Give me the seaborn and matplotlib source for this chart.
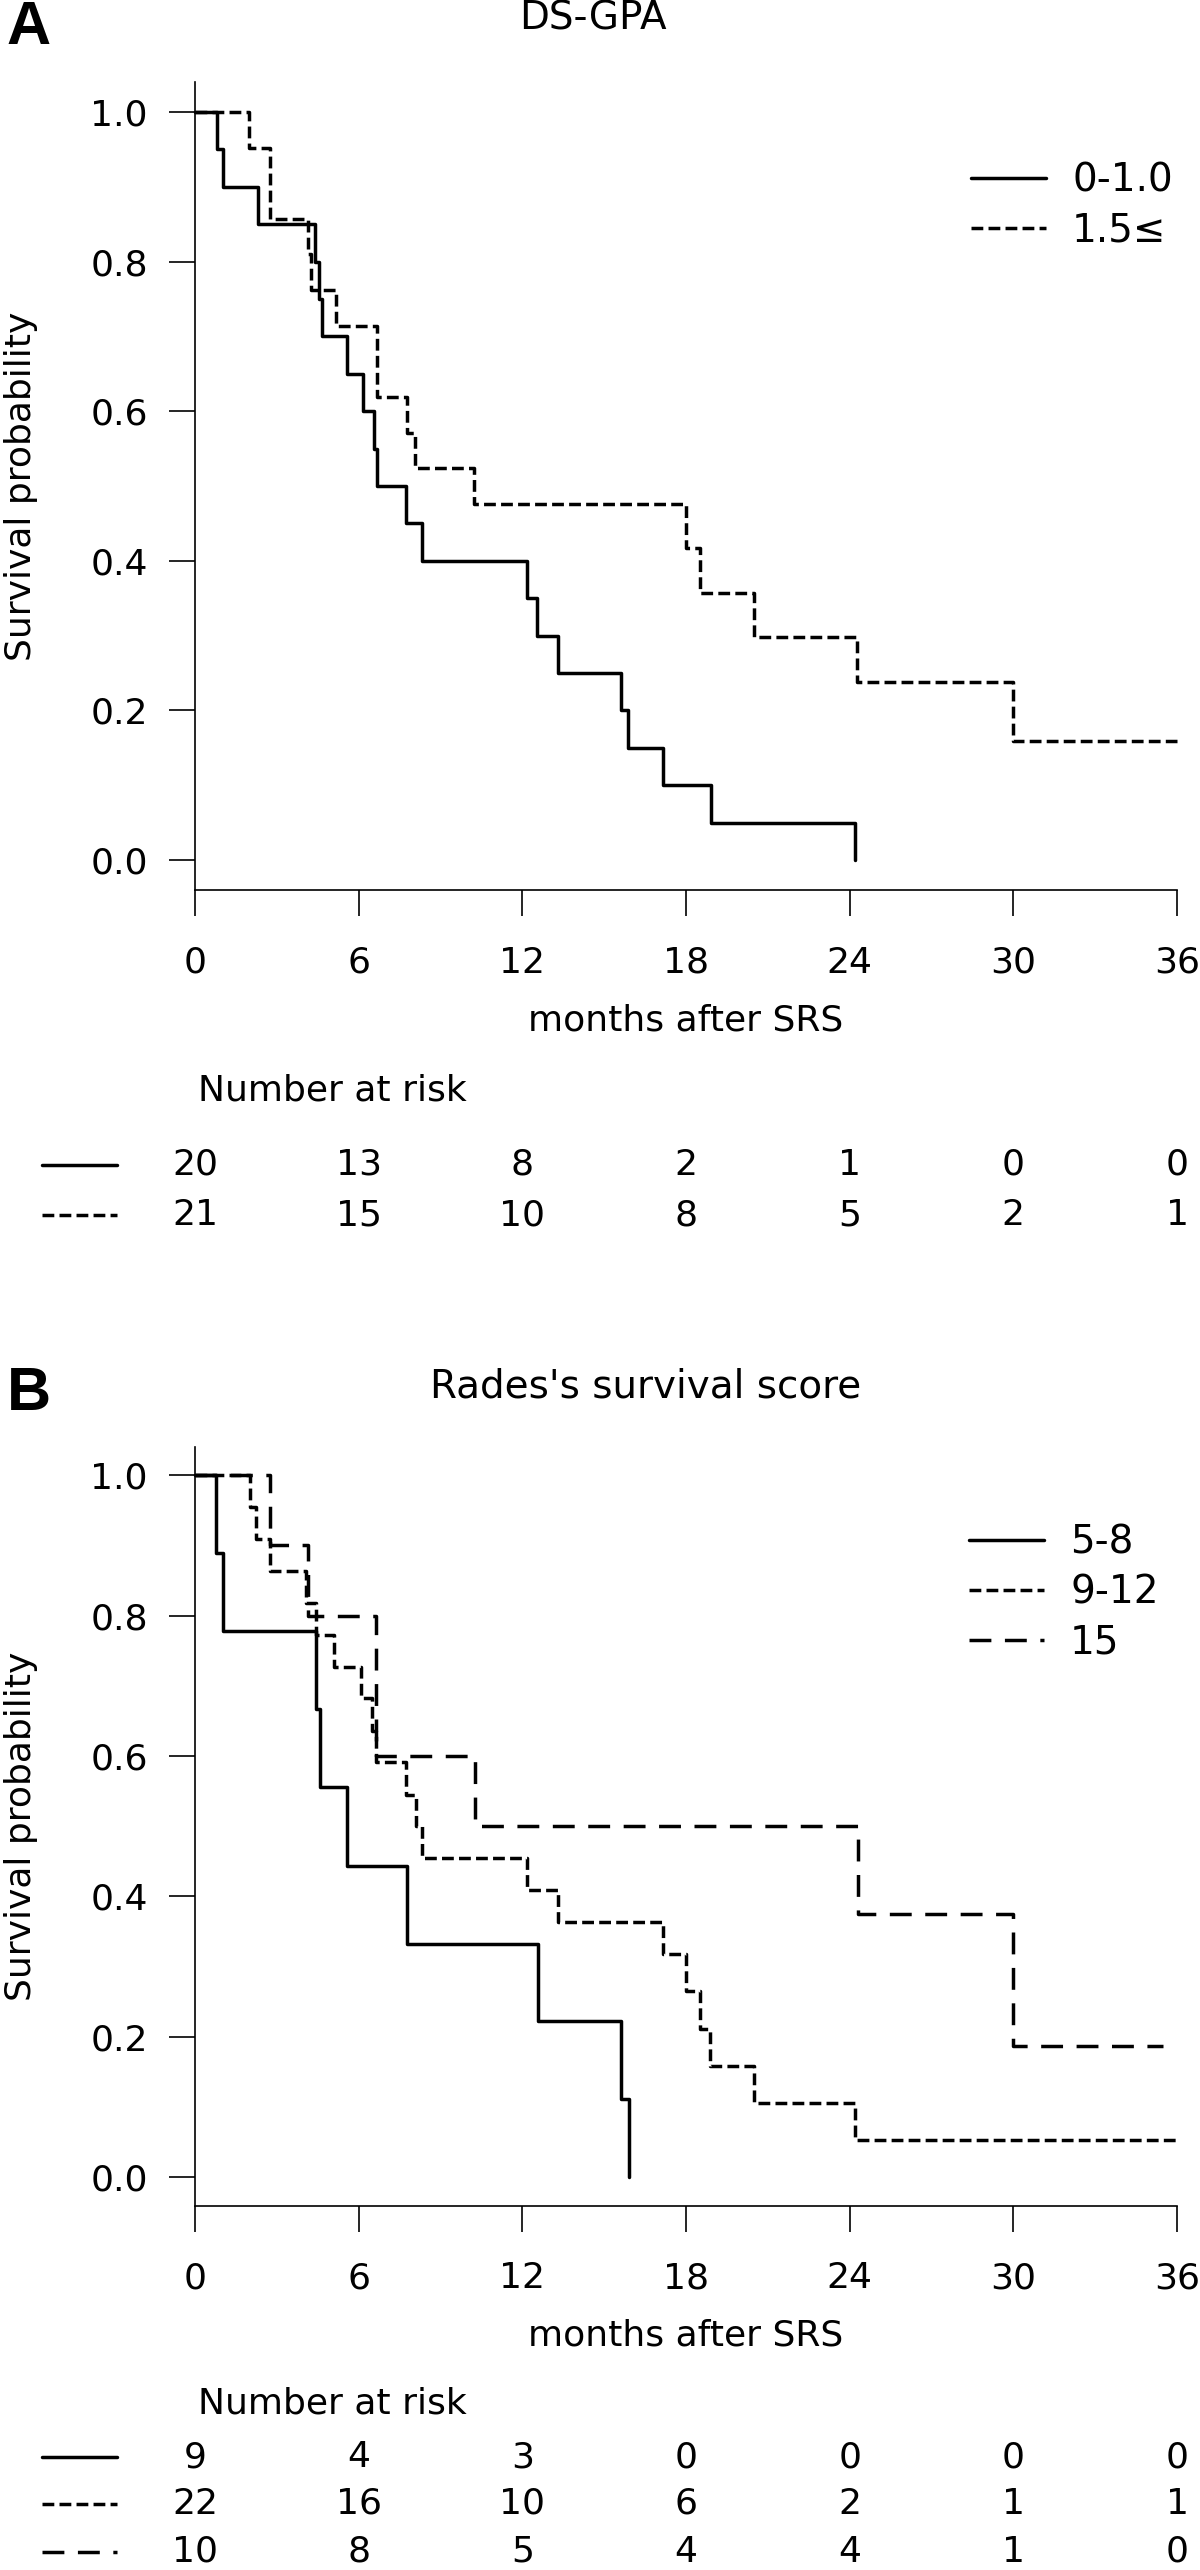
import numpy as np
import pandas as pd
import matplotlib
matplotlib.use("Agg")
import matplotlib.pyplot as plt
import seaborn as sns
from matplotlib.lines import Line2D
from matplotlib.transforms import blended_transform_factory

sns.set_theme(style="white")
plt.rcParams["font.family"] = ["DejaVu Sans"]
plt.rcParams["text.color"] = "black"
plt.rcParams["axes.labelcolor"] = "black"
plt.rcParams["xtick.color"] = "black"
plt.rcParams["ytick.color"] = "black"

months = [0, 6, 12, 18, 24, 30, 36]

# panel A - DS-GPA
a_low_t = [0, 0.79, 1.04, 2.31, 4.40, 4.54, 4.66, 5.59, 6.15, 6.55, 6.66, 7.73, 8.32,
           12.16, 12.53, 13.29, 15.63, 15.86, 17.16, 18.9, 24.18]
a_low_s = [1.0, 0.95, 0.90, 0.85, 0.80, 0.75, 0.70, 0.65, 0.60, 0.55, 0.50, 0.45, 0.40,
           0.35, 0.30, 0.25, 0.20, 0.15, 0.10, 0.05, 0.0]
a_high_t = [0, 1.99, 2.76, 4.13, 4.27, 5.16, 6.67, 7.77, 8.08, 10.23, 18.0, 18.5, 20.5,
            24.27, 29.97, 36]
a_high_s = [1.0, 0.952, 0.857, 0.810, 0.762, 0.714, 0.619, 0.571, 0.524, 0.476, 0.417,
            0.357, 0.298, 0.238, 0.159, 0.159]
a_risk_low = [20, 13, 8, 2, 1, 0, 0]
a_risk_high = [21, 15, 10, 8, 5, 2, 1]

# panel B - Rades's survival score
b_low_t = [0, 0.78, 1.02, 4.42, 4.6, 5.59, 7.76, 12.56, 15.63, 15.91]
b_low_s = [1.0, 0.889, 0.778, 0.667, 0.556, 0.444, 0.333, 0.222, 0.111, 0.0]
b_mid_t = [0, 2.0, 2.25, 2.74, 4.08, 4.45, 5.08, 6.09, 6.5, 6.62, 7.73, 8.1, 8.32,
           12.16, 13.29, 17.16, 18.0, 18.5, 18.88, 20.5, 24.2, 36]
b_mid_s = [1.0, 0.955, 0.909, 0.864, 0.818, 0.773, 0.727, 0.682, 0.636, 0.591, 0.545,
           0.5, 0.455, 0.409, 0.364, 0.318, 0.265, 0.212, 0.159, 0.106, 0.053, 0.053]
b_high_t = [0, 2.74, 4.14, 6.63, 10.27, 24.32, 29.97, 35.5]
b_high_s = [1.0, 0.9, 0.8, 0.6, 0.5, 0.375, 0.1875, 0.1875]
b_risk_low = [9, 4, 3, 0, 0, 0, 0]
b_risk_mid = [22, 16, 10, 6, 2, 1, 1]
b_risk_high = [10, 8, 5, 4, 4, 1, 0]

W, H = 1200, 2570
LW = 2.5
solid = "-"
short_dash = (0, (3.4, 1.5))
long_dash = (0, (6.3, 3.9))
FS = 26


def fx(px):
    return px / W


def fy(py):
    return 1 - py / H


fig = plt.figure(figsize=(12, 25.7), dpi=100)


def setup_axes(ax):
    ax.set_xlim(0, 36)
    ax.set_ylim(-0.04, 1.04)
    ax.set_xticks(months)
    ax.set_yticks([0, 0.2, 0.4, 0.6, 0.8, 1.0])
    ax.set_yticklabels(["0.0", "0.2", "0.4", "0.6", "0.8", "1.0"])
    ax.tick_params(axis="both", direction="out", length=19, width=1.2,
                   labelsize=FS, colors="black", bottom=True, left=True)
    ax.tick_params(axis="y", pad=15)
    ax.tick_params(axis="x", pad=21)
    sns.despine(ax=ax)
    for sp in ["left", "bottom"]:
        ax.spines[sp].set_linewidth(1.2)
        ax.spines[sp].set_color("black")
    ax.set_xlabel("")
    ax.set_ylabel("")


def km(ax, t, s, ls, label):
    sns.lineplot(x=t, y=s, ax=ax, drawstyle="steps-post", estimator=None, sort=False,
                 color="black", linewidth=LW, linestyle=ls, label=label, clip_on=False)


def risk_table(ax, rows, styles, ys, head_y):
    trans = blended_transform_factory(ax.transData, fig.transFigure)
    fig.text(fx(198), fy(head_y), "Number at risk", ha="left", va="center", fontsize=FS)
    for vals, ls, y in zip(rows, styles, ys):
        fig.add_artist(Line2D([fx(42), fx(117)], [fy(y), fy(y)], transform=fig.transFigure,
                              color="black", linewidth=LW, linestyle=ls))
        for m, v in zip(months, vals):
            ax.text(m, fy(y), str(v), transform=trans, ha="center", va="center",
                    fontsize=FS, clip_on=False)


# ---- panel A
axA = fig.add_axes([fx(195), fy(890), fx(1177) - fx(195), (890 - 82) / H])
km(axA, a_low_t, a_low_s, solid, "0-1.0")
km(axA, a_high_t, a_high_s, short_dash, "1.5\u2264")
setup_axes(axA)
axA.legend(loc="upper left", bbox_to_anchor=(fx(971), fy(162)), bbox_transform=fig.transFigure,
           frameon=False, fontsize=28, handlelength=1.93, handletextpad=0.67,
           borderpad=0, borderaxespad=0, labelspacing=0.3)
fig.text(fx(29), fy(29), "A", fontsize=44, fontweight="bold", ha="center", va="center",
         family=["Liberation Sans", "DejaVu Sans"])
fig.text(fx(593), fy(18), "DS-GPA", fontsize=28, ha="center", va="center")
fig.text(fx(21.5), fy(486), "Survival probability", rotation=90, fontsize=FS,
         ha="center", va="center")
fig.text(fx(686), fy(1021), "months after SRS", fontsize=FS, ha="center", va="center")
risk_table(axA, [a_risk_low, a_risk_high], [solid, short_dash], [1165, 1215], 1090)

# ---- panel B
axB = fig.add_axes([fx(195), fy(2205.5), fx(1177) - fx(195), (2205.5 - 1447) / H])
km(axB, b_low_t, b_low_s, solid, "5-8")
km(axB, b_mid_t, b_mid_s, short_dash, "9-12")
km(axB, b_high_t, b_high_s, long_dash, "15")
setup_axes(axB)
axB.legend(loc="upper left", bbox_to_anchor=(fx(969), fy(1524)), bbox_transform=fig.transFigure,
           frameon=False, fontsize=28, handlelength=1.93, handletextpad=0.67,
           borderpad=0, borderaxespad=0, labelspacing=0.3)
fig.text(fx(29), fy(1394), "B", fontsize=44, fontweight="bold", ha="center", va="center",
         family=["Liberation Sans", "DejaVu Sans"])
fig.text(fx(646), fy(1387), "Rades's survival score", fontsize=28, ha="center", va="center")
fig.text(fx(21.5), fy(1826), "Survival probability", rotation=90, fontsize=FS,
         ha="center", va="center")
fig.text(fx(686), fy(2336), "months after SRS", fontsize=FS, ha="center", va="center")
risk_table(axB, [b_risk_low, b_risk_mid, b_risk_high], [solid, short_dash, long_dash],
           [2457, 2504, 2552], 2404)

fig.savefig("out.png", dpi=100)
